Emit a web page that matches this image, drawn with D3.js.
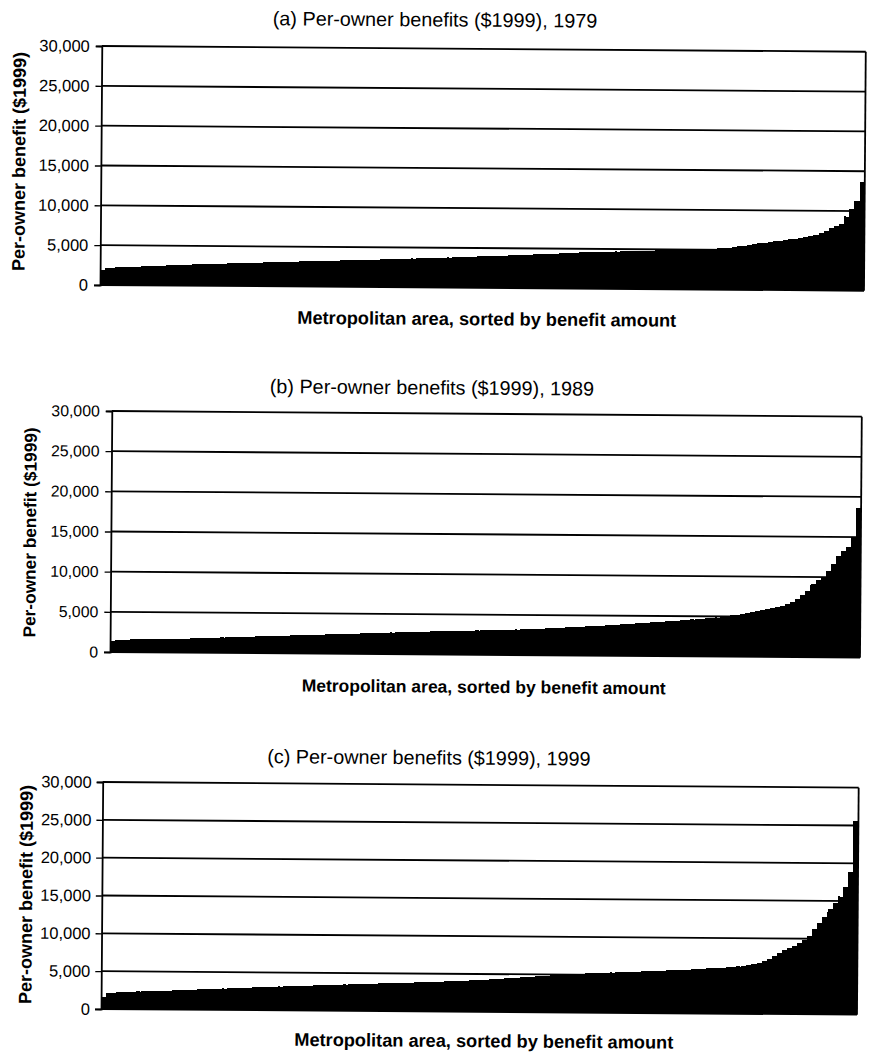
<!DOCTYPE html>
<html>
<head>
<meta charset="utf-8">
<script src="https://cdn.jsdelivr.net/npm/d3@7"></script>
<style>
  html, body { margin: 0; padding: 0; background: #fff; }
  svg { display: block; font-family: "Liberation Sans", Arial, Helvetica, sans-serif; }
</style>
</head>
<body>
<svg id="chart" width="871" height="1056"></svg>
<script>
// Per-owner benefit (in 1999 dollars) for each metropolitan area, sorted ascending.
const benefits1979 = [
  1900,2150,2190,2220,2250,2280,2310,2340,2370,2400,
  2430,2460,2490,2520,2550,2580,2610,2640,2670,2700,
  2720,2740,2760,2790,2810,2830,2860,2880,2900,2920,
  2940,2960,2990,3010,3030,3050,3070,3090,3120,3150,
  3170,3190,3210,3230,3250,3270,3290,3310,3330,3350,
  3370,3390,3410,3430,3450,3470,3490,3510,3540,3580,
  3600,3620,3640,3660,3690,3710,3730,3760,3780,3800,
  3830,3850,3880,3910,3950,3970,3990,4010,4040,4070,
  4100,4130,4160,4190,4220,4250,4280,4310,4350,4380,
  4410,4450,4480,4510,4540,4560,4580,4600,4620,4640,
  4660,4690,4710,4730,4750,4770,4790,4820,4840,4860,
  4870,4880,4900,4920,4940,4970,5000,5030,5060,5100,
  5140,5190,5240,5290,5360,5440,5530,5640,5750,5860,
  5950,6040,6110,6200,6300,6400,6480,6580,6680,6780,
  6950,7150,7450,7800,8100,8400,9300,10200,11300,13600
];
const benefits1989 = [
  1400,1540,1560,1570,1590,1600,1620,1630,1650,1660,
  1680,1690,1710,1720,1740,1750,1770,1790,1810,1840,
  1860,1880,1910,1930,1950,1980,2000,2020,2050,2070,
  2090,2120,2140,2160,2180,2200,2230,2250,2270,2300,
  2320,2350,2370,2390,2420,2440,2460,2480,2510,2530,
  2550,2580,2600,2620,2650,2670,2690,2710,2740,2760,
  2780,2800,2820,2840,2860,2880,2900,2920,2940,2960,
  2970,2990,3010,3020,3040,3060,3080,3100,3110,3130,
  3150,3180,3210,3230,3260,3280,3310,3340,3370,3410,
  3450,3480,3510,3550,3590,3630,3670,3700,3740,3780,
  3820,3860,3910,3960,4010,4060,4110,4160,4200,4240,
  4290,4330,4380,4430,4480,4540,4590,4640,4690,4740,
  4790,4860,4940,5020,5130,5250,5370,5500,5630,5760,
  5890,5990,6090,6180,6350,6560,6900,7250,7700,8200,
  9100,9600,10000,10800,11600,12600,13300,13800,15000,18600
];
const benefits1999 = [
  1600,2100,2180,2220,2260,2290,2320,2350,2370,2400,
  2430,2460,2490,2510,2540,2570,2600,2630,2660,2690,
  2720,2750,2780,2800,2830,2860,2890,2920,2950,2980,
  3000,3030,3060,3090,3120,3150,3180,3200,3230,3260,
  3280,3310,3330,3360,3380,3410,3430,3460,3480,3510,
  3530,3560,3580,3610,3630,3650,3680,3700,3720,3750,
  3770,3800,3820,3850,3880,3900,3930,3960,3990,4020,
  4050,4080,4110,4140,4180,4220,4260,4310,4360,4410,
  4460,4510,4560,4610,4660,4710,4760,4810,4860,4900,
  4950,4990,5030,5070,5110,5150,5180,5210,5240,5270,
  5300,5330,5360,5390,5420,5450,5480,5510,5540,5570,
  5600,5630,5660,5690,5720,5760,5800,5840,5880,5920,
  5960,6000,6040,6090,6140,6190,6250,6320,6420,6560,
  6750,7000,7300,7650,8100,8500,8800,9050,9350,9800,
  10400,11300,12100,12900,14000,14800,15600,16800,18800,25600
];

const yTickValues = [0, 5000, 10000, 15000, 20000, 25000, 30000];
const panelTitles = [
  "(a) Per-owner benefits ($1999), 1979",
  "(b) Per-owner benefits ($1999), 1989",
  "(c) Per-owner benefits ($1999), 1999"
];
const yAxisTitle = "Per-owner benefit ($1999)";
const xAxisTitle = "Metropolitan area, sorted by benefit amount";

// Panel layout: plot box, label anchors and type scale; the printed page sits slightly askew.
const layouts = [
  { left: 100, right: 864, top: 46,  bottom: 285,  tickEnd: 88, yTitle: [18, 162], title: [433, 17],  xTitle: [487, 316],  k: 1.0 },
  { left: 110, right: 860, top: 411, bottom: 652,  tickEnd: 98, yTitle: [29, 533], title: [430, 385], xTitle: [484, 684],  k: 0.96 },
  { left: 101, right: 857, top: 782, bottom: 1009, tickEnd: 90, yTitle: [25, 895], title: [427, 755], xTitle: [484, 1038], k: 1.0 }
];
const seriesList = [benefits1979, benefits1989, benefits1999];
const tilt = 0.43;

const svg = d3.select("#chart");
const fmt = d3.format(",");

seriesList.forEach((values, p) => {
  const L = layouts[p];
  const g = svg.append("g")
    .attr("transform", `rotate(${tilt},${L.left},${L.bottom})`);

  const x = d3.scaleBand()
    .domain(d3.range(values.length))
    .range([L.left, L.right])
    .paddingInner(0).paddingOuter(0);
  const y = d3.scaleLinear().domain([0, 30000]).range([L.bottom, L.top]);

  // horizontal gridlines
  g.append("g").selectAll("line")
    .data(yTickValues)
    .join("line")
    .attr("x1", L.left).attr("x2", L.right)
    .attr("y1", d => y(d)).attr("y2", d => y(d))
    .attr("stroke", "#000").attr("stroke-width", 1.8);

  // bars
  g.append("g").attr("shape-rendering", "crispEdges")
    .selectAll("rect")
    .data(values)
    .join("rect")
    .attr("x", (d, i) => x(i))
    .attr("width", x.bandwidth() + 0.4)
    .attr("y", d => y(d))
    .attr("height", d => y(0) - y(d))
    .attr("fill", "#000");

  // left value axis
  const axis = d3.axisLeft(y).tickValues(yTickValues).tickFormat(fmt).tickSize(6);
  const ag = g.append("g").attr("transform", `translate(${L.left},0)`).call(axis);
  ag.select(".domain").attr("stroke", "#000").attr("stroke-width", 1.8);
  ag.selectAll(".tick line").attr("stroke", "#000").attr("stroke-width", 1.4);
  ag.selectAll(".tick text")
    .attr("x", -(L.left - L.tickEnd))
    .attr("fill", "#000")
    .style("font-size", (16.5 * L.k) + "px")
    .style("font-family", "'Liberation Sans', Arial, sans-serif");

  // right frame edge
  g.append("line")
    .attr("x1", L.right).attr("x2", L.right)
    .attr("y1", y(30000)).attr("y2", y(0))
    .attr("stroke", "#000").attr("stroke-width", 1.8);

  // titles
  g.append("text")
    .attr("x", L.title[0]).attr("y", L.title[1])
    .attr("dy", "0.35em")
    .attr("text-anchor", "middle")
    .style("font-size", "19.8px")
    .text(panelTitles[p]);

  g.append("text")
    .attr("x", L.xTitle[0]).attr("y", L.xTitle[1])
    .attr("dy", "0.35em")
    .attr("text-anchor", "middle")
    .style("font-size", (18.2 * L.k) + "px")
    .style("font-weight", "bold")
    .text(xAxisTitle);

  g.append("text")
    .attr("transform", `translate(${L.yTitle[0]},${L.yTitle[1]}) rotate(-90)`)
    .attr("dy", "0.35em")
    .attr("text-anchor", "middle")
    .style("font-size", (18 * L.k) + "px")
    .style("font-weight", "bold")
    .text(yAxisTitle);
});
</script>
</body>
</html>
